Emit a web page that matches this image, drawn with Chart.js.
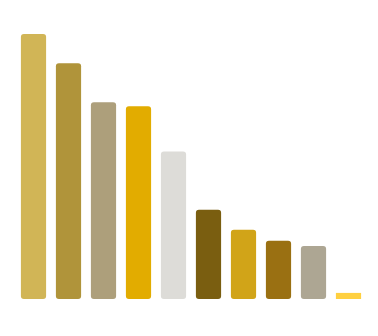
<!DOCTYPE html>
<html>
<head>
<meta charset="utf-8">
<script src="https://cdn.jsdelivr.net/npm/chart.js@4"></script>
<style>
  html, body { margin: 0; padding: 0; background: #fff; }
  #wrap { width: 378px; height: 336px; }
</style>
</head>
<body>
<div id="wrap"><canvas id="bars"></canvas></div>
<script>
// bar data, tallest first
const categories = ['A', 'B', 'C', 'D', 'E', 'F', 'G', 'H', 'I', 'J'];
const values = [100, 89, 74.2, 72.7, 55.7, 33.7, 26.1, 22, 20, 2.3];
const barColors = ['#D1B556', '#B0943A', '#AD9F7B', '#E2AC00', '#DDDCD8',
                   '#7A5E10', '#D1A418', '#9A7012', '#ADA693', '#FFD040'];

const ctx = document.getElementById('bars').getContext('2d');
const chart = new Chart(ctx, {
    type: 'bar',
    data: {
        labels: categories,
        datasets: [{
            data: values,
            backgroundColor: barColors,
            // tiny bars look better square
            borderRadius: (c) => (c.raw < 5 ? 0 : 3),
            borderSkipped: false,
            categoryPercentage: 1,
            barPercentage: 0.72
        }]
    },
    options: {
        responsive: true,
        maintainAspectRatio: false,
        animation: false,
        layout: { padding: { top: 34, bottom: 37, left: 16, right: 12 } },
        plugins: { legend: { display: false }, tooltip: { enabled: false } },
        scales: {
            x: { display: false },
            y: { display: false, min: 0, max: 100 }
        }
    }
});
</script>
</body>
</html>
